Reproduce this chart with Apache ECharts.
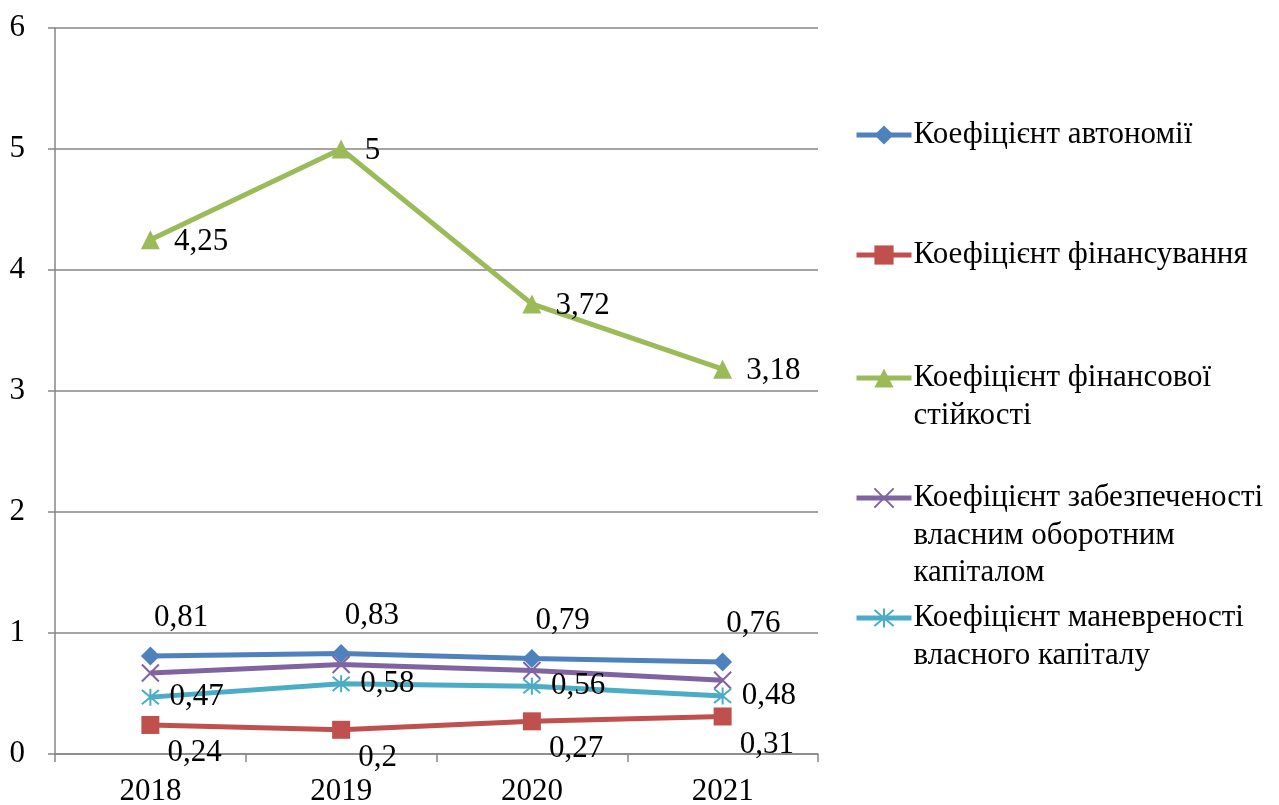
<!DOCTYPE html>
<html>
<head>
<meta charset="utf-8">
<script src="https://cdn.jsdelivr.net/npm/echarts@6/dist/echarts.min.js"></script>
<style>
    html, body { margin: 0; padding: 0; background: #fff; }
    #chart { width: 1279px; height: 805px; }
</style>
</head>
<body>
<div id="chart"></div>
<script>
    // дані з рисунка
    const years = ['2018', '2019', '2020', '2021'];
    const names = [
        'Коефіцієнт автономії',
        'Коефіцієнт фінансування',
        'Коефіцієнт фінансової стійкості',
        'Коефіцієнт забезпеченості власним оборотним капіталом',
        'Коефіцієнт маневреності власного капіталу'
    ];
    const autonomy = [0.81, 0.83, 0.79, 0.76];
    const financing = [0.24, 0.2, 0.27, 0.31];
    const stability = [4.25, 5, 3.72, 3.18];
    const provision = [0.67, 0.74, 0.69, 0.61];
    const agility = [0.47, 0.58, 0.56, 0.48];
    const yTicks = [0, 1, 2, 3, 4, 5, 6];

    // рядки легенди (перенесення як на рисунку)
    const legendLines = [
        ['Коефіцієнт автономії'],
        ['Коефіцієнт фінансування'],
        ['Коефіцієнт фінансової', 'стійкості'],
        ['Коефіцієнт забезпеченості', 'власним оборотним', 'капіталом'],
        ['Коефіцієнт маневреності', 'власного капіталу']
    ];

    const font = 'Liberation Serif';
    const fs = 31;
    const lh = 37.5;
    const iconCenters = [135, 255, 378, 498, 618];
    const iconH = 24;

    const fmt = p => String(p.value).replace('.', ',');

    let myChart = echarts.init(document.getElementById('chart'));

    // окрема легенда для кожного ряду, щоб значок стояв навпроти першого рядка
    let legends = names.map((n, i) => {
        let lines = legendLines[i];
        let k = lines.length;
        return {
            data: [n],
            orient: 'vertical',
            left: 854,
            top: iconCenters[i] - (2 * k - 1) * lh / 2,
            padding: 0,
            itemWidth: 55,
            itemHeight: iconH,
            itemGap: 0,
            selectedMode: false,
            lineStyle: { width: 5 },
            textStyle: { fontFamily: font, fontSize: fs, color: '#000', lineHeight: lh, padding: [0, 0, 0, -3] },
            formatter: () => new Array(k - 1).fill('').concat(lines).join('\n')
        };
    });

    function lineSeries(name, data, color, symbol, size, label, extra) {
        return Object.assign({
            name: name,
            type: 'line',
            data: data,
            symbol: symbol,
            symbolSize: size,
            lineStyle: { color: color, width: 5 },
            itemStyle: { color: color },
            label: label,
            z: 2
        }, extra || {});
    }

    const lbl = (position, offset, distance) => ({
        show: true,
        position: position,
        offset: offset,
        distance: distance,
        formatter: fmt,
        fontFamily: font,
        fontSize: fs,
        color: '#000'
    });

    let option = {
        animation: false,
        backgroundColor: '#fff',
        legend: legends,
        grid: { left: 55, right: 461, top: 28, bottom: 51, containLabel: false, outerBoundsMode: 'none' },
        xAxis: {
            type: 'category',
            data: years,
            boundaryGap: true,
            axisLine: { lineStyle: { color: '#868686', width: 1.5 } },
            axisTick: { show: true, length: 8, lineStyle: { color: '#868686', width: 1.5 } },
            axisLabel: { fontFamily: font, fontSize: fs, color: '#000', margin: 22 }
        },
        yAxis: {
            type: 'value',
            min: yTicks[0],
            max: yTicks[yTicks.length - 1],
            interval: 1,
            axisLine: { show: true, lineStyle: { color: '#868686', width: 1.5 } },
            axisTick: { show: true, length: 7, lineStyle: { color: '#868686', width: 1.5 } },
            splitLine: { lineStyle: { color: '#868686', width: 1.5 } },
            axisLabel: { fontFamily: font, fontSize: fs, color: '#000', margin: 30 }
        },
        series: [
            lineSeries(names[0], autonomy, '#4F81BD', 'diamond', 19, lbl('right', [-6, -38], 0)),
            lineSeries(names[1], financing, '#C0504D', 'rect', 18, lbl('right', [0, 28], 8)),
            lineSeries(names[2], stability, '#9BBB59', 'triangle', 19, lbl('right', [0, 2], 14)),
            lineSeries(names[3], provision, '#8064A2', 'path://M0,0L10,10M10,0L0,10', 17, { show: false },
                { itemStyle: { color: 'none', borderColor: '#8064A2', borderWidth: 2 } }),
            lineSeries(names[4], agility, '#4BACC6', 'path://M0,0L10,10M10,0L0,10M5,-1L5,11', 17, lbl('right', [0, 0], 8),
                { itemStyle: { color: 'none', borderColor: '#4BACC6', borderWidth: 2 } })
        ]
    };
    myChart.setOption(option);
</script>
</body>
</html>
